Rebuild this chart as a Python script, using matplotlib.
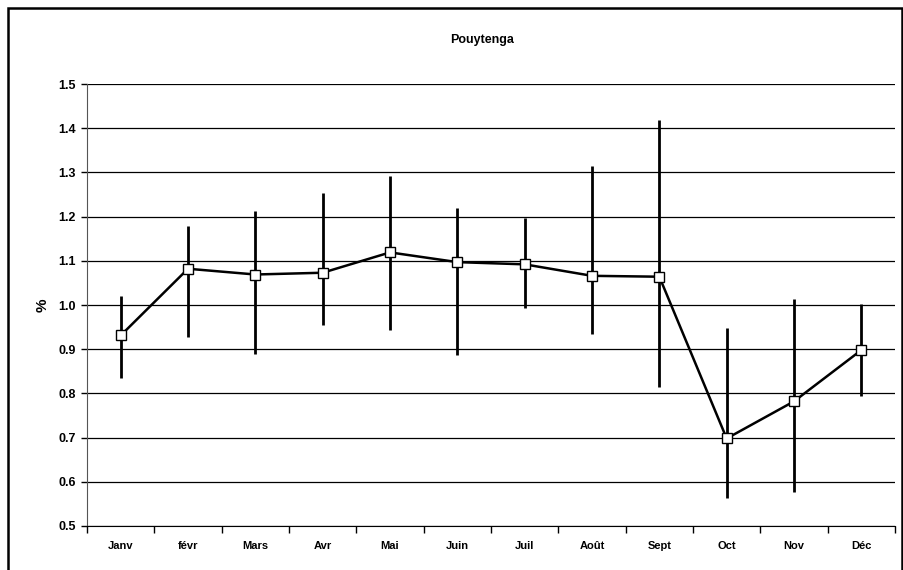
import matplotlib.pyplot as plt
from matplotlib.patches import Rectangle
import numpy as np

plt.rcParams['font.family'] = ['Liberation Sans', 'DejaVu Sans']
plt.rcParams['font.weight'] = 'bold'

# Monthly mean (%) with the low / high ends of each bar
months = ["Janv", "févr", "Mars", "Avr", "Mai", "Juin",
          "Juil", "Août", "Sept", "Oct", "Nov", "Déc"]
mean = [0.931, 1.082, 1.069, 1.073, 1.119, 1.097,
        1.092, 1.066, 1.064, 0.698, 0.782, 0.898]
low = [0.834, 0.928, 0.890, 0.954, 0.943, 0.886,
       0.993, 0.935, 0.814, 0.563, 0.578, 0.795]
high = [1.020, 1.179, 1.213, 1.253, 1.291, 1.220,
        1.196, 1.315, 1.418, 0.947, 1.013, 1.002]

x = np.arange(len(months))
mean = np.array(mean)
yerr = [mean - np.array(low), np.array(high) - mean]

fig = plt.figure(figsize=(9.04, 5.70), dpi=100)
ax = fig.add_axes([87 / 904, 1 - 526 / 570, 808 / 904, 442 / 570])

ax.errorbar(x, mean, yerr=yerr, fmt='none', ecolor='black', elinewidth=2,
            capsize=0, zorder=3)
ax.plot(x, mean, color='black', lw=1.8, marker='s', markersize=6.5,
        markerfacecolor='white', markeredgecolor='black', markeredgewidth=1,
        zorder=4)

ax.set_xlim(-0.5, len(months) - 0.5)
ax.set_ylim(0.5, 1.5)
yt = np.arange(0.5, 1.51, 0.1)
ax.set_yticks(yt)
ax.set_yticklabels([f"{v:.1f}" for v in yt], fontsize=9, fontweight='bold')
ax.yaxis.grid(True, color='black', lw=0.9)
ax.set_axisbelow(True)

ax.set_xticks(x)
ax.set_xticklabels(months, fontsize=8, fontweight='bold')
ax.set_xticks(np.arange(-0.5, len(months)), minor=True)
ax.tick_params(axis='x', which='major', length=0, pad=11)
ax.tick_params(axis='x', which='minor', length=5, width=1, direction='out')
ax.tick_params(axis='y', length=4, width=1, pad=4)

for side in ('top', 'right'):
    ax.spines[side].set_visible(False)
ax.spines['left'].set_color('#555555')
ax.spines['bottom'].set_color('black')

ax.set_ylabel('%', fontsize=11, fontweight='bold', labelpad=6)

fig.text(0.533, 1 - 40 / 570, 'Pouytenga', ha='center', va='center',
         fontsize=9, fontweight='bold')

# outer chart frame, open at the bottom edge
fig.add_artist(Rectangle((8 / 904, -0.1), 894 / 904, 1 - 8 / 570 + 0.1,
                         transform=fig.transFigure, fill=False,
                         edgecolor='black', lw=1.8, clip_on=False))

fig.savefig('out.png', dpi=100)
